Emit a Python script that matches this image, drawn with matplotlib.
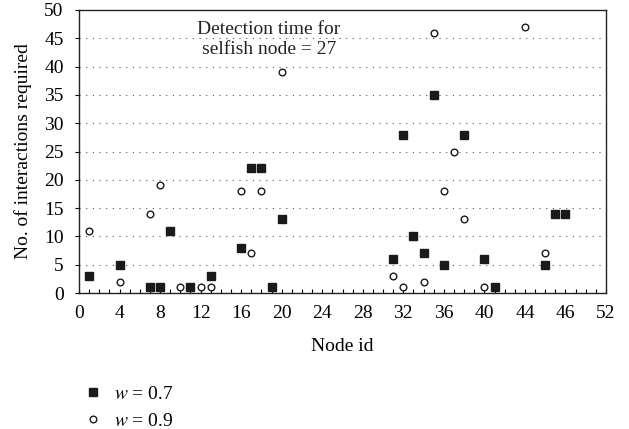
import matplotlib.pyplot as plt

# node ids and interactions needed, w = 0.7 (filled squares)
w07_x = [1, 4, 7, 8, 9, 11, 13, 16, 17, 18, 19, 20, 31, 32, 33, 34, 35, 36, 38, 40, 41, 46, 47, 48]
w07_y = [3, 5, 1, 1, 11, 1, 3, 8, 22, 22, 1, 13, 6, 28, 10, 7, 35, 5, 28, 6, 1, 5, 14, 14]

# w = 0.9 (open circles)
w09_x = [1, 4, 7, 8, 10, 12, 13, 16, 17, 18, 20, 31, 32, 34, 35, 36, 37, 38, 40, 44, 46]
w09_y = [11, 2, 14, 19, 1, 1, 1, 18, 7, 18, 39, 3, 1, 2, 46, 18, 25, 13, 1, 47, 7]

xtick_pos = [0, 4, 8, 12, 16, 20, 24, 28, 32, 36, 40, 44, 48, 52]
xtick_labels = ['0', '4', '8', '12', '16', '20', '24', '28', '32', '36', '40', '44', '46', '52']
ytick_pos = list(range(0, 51, 5))

plt.rcParams['font.family'] = ['Liberation Serif', 'DejaVu Serif']
plt.rcParams['mathtext.fontset'] = 'stix'
fs = 14

fig = plt.figure(figsize=(6.29, 4.29), dpi=100)
ax = fig.add_axes([79/629, 1 - 293/429, 527/629, 283/429])

ax.plot(w07_x, w07_y, linestyle='none', marker='s', markersize=5.2,
        color='#1a1a1a', label=r'$w$ = 0.7', zorder=3)
ax.plot(w09_x, w09_y, linestyle='none', marker='o', markersize=4.8,
        markerfacecolor='white', markeredgecolor='#1a1a1a', markeredgewidth=1.0,
        label=r'$w$ = 0.9', zorder=3)

ax.set_xlim(0, 52)
ax.set_ylim(0, 50)
ax.set_xticks(xtick_pos)
ax.set_xticklabels(xtick_labels)
ax.set_xticks(range(0, 53), minor=True)
ax.set_yticks(ytick_pos)
ax.tick_params(axis='x', which='both', direction='in', length=3, width=0.8,
               labelsize=fs, pad=9)
ax.tick_params(axis='y', direction='out', length=3, width=0.8, labelsize=fs, pad=8)

for y in ytick_pos[1:-1]:
    ax.axhline(y, color='#555555', linestyle=(0, (1, 5)), linewidth=0.8, zorder=1)

for s in ax.spines.values():
    s.set_linewidth(1.0)
    s.set_color('#222222')

ax.set_xlabel('Node id', fontsize=fs, labelpad=11)
ax.set_ylabel('No. of interactions required', fontsize=fs, labelpad=9)

ax.text(18.75, 48.0, 'Detection time for\nselfish node = 27', fontsize=fs,
        ha='center', va='top', linespacing=1.2, color='#222222')

fig.legend(loc='upper left', bbox_to_anchor=(85/629, 1 - 385/429), frameon=False,
           fontsize=fs, handlelength=0.8, handletextpad=0.7, labelspacing=0.5,
           borderpad=0, borderaxespad=0)

plt.savefig('out.png', dpi=100)
